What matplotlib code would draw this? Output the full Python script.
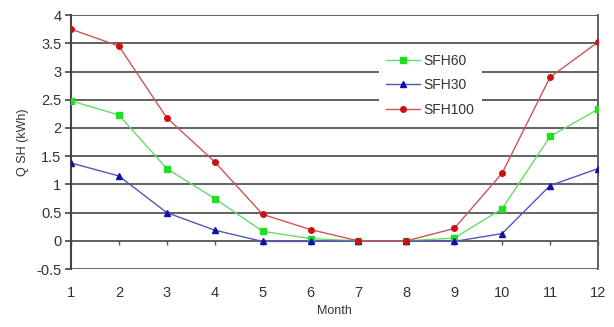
import matplotlib
matplotlib.use("Agg")
import matplotlib.pyplot as plt

plt.rcParams['font.family'] = ['Liberation Sans', 'DejaVu Sans']

months = [1, 2, 3, 4, 5, 6, 7, 8, 9, 10, 11, 12]
sfh60 = [2.48, 2.23, 1.28, 0.75, 0.17, 0.04, 0.0, 0.0, 0.05, 0.57, 1.85, 2.33]
sfh30 = [1.38, 1.15, 0.50, 0.19, -0.01, -0.01, 0.0, 0.0, -0.01, 0.13, 0.98, 1.28]
sfh100 = [3.75, 3.45, 2.18, 1.40, 0.47, 0.20, 0.0, 0.0, 0.22, 1.20, 2.90, 3.52]

fig = plt.figure(figsize=(6.14, 3.27), dpi=100)
ax = fig.add_axes([0.1156, 0.177, 0.8583, 0.777])

# horizontal grid
for yv in [-0.5, 0, 0.5, 1, 1.5, 2, 2.5, 3, 3.5, 4]:
    ax.axhline(yv, color='#555555', linewidth=1.3, zorder=1)

ax.plot(months, sfh60, color='#66dd66', linewidth=1.0, marker='s', markersize=4.5,
        markerfacecolor='#22dd22', markeredgecolor='#22dd22', label='SFH60', zorder=3)
ax.plot(months, sfh30, color='#5555bb', linewidth=1.0, marker='^', markersize=5,
        markerfacecolor='#1111aa', markeredgecolor='#1111aa', label='SFH30', zorder=3)
ax.plot(months, sfh100, color='#cc5555', linewidth=1.0, marker='o', markersize=4,
        markerfacecolor='#cc1111', markeredgecolor='#cc1111', label='SFH100', zorder=4)

ax.set_xlim(1, 12)
ax.set_ylim(-0.5, 4)
ax.set_xticks(months)
ax.set_yticks([-0.5, 0, 0.5, 1, 1.5, 2, 2.5, 3, 3.5, 4])
ax.set_yticklabels(['-0.5', '0', '0.5', '1', '1.5', '2', '2.5', '3', '3.5', '4'])

ax.spines['top'].set_visible(False)
ax.spines['left'].set_color('#444444')
ax.spines['left'].set_linewidth(1.5)
ax.spines['right'].set_color('#555555')
ax.spines['right'].set_linewidth(1.3)
ax.spines['bottom'].set_visible(False)

ax.tick_params(axis='x', length=0, pad=12, labelsize=10.5, labelcolor='#333333')
ax.tick_params(axis='y', length=4, width=1.2, color='#444444', labelsize=10.5,
               labelcolor='#333333', pad=3)

# tick marks on the zero line
sec = ax.secondary_xaxis(0.5 / 4.5)
sec.set_xticks(months)
sec.tick_params(length=3, width=1, color='#555555', labelbottom=False, direction='out')
sec.spines['bottom'].set_visible(False)

ax.set_xlabel('Month', fontsize=9, color='#333333', labelpad=4)
ax.set_ylabel('Q SH (kWh)', fontsize=9, color='#333333', labelpad=5)

leg = ax.legend(loc='upper left', bbox_to_anchor=(0.585, 0.875), frameon=True,
                fontsize=10, handlelength=2.4, handletextpad=0.3, labelspacing=0.75,
                borderpad=0.5, borderaxespad=0, fancybox=False)
leg.get_frame().set_edgecolor('none')
leg.get_frame().set_facecolor('white')
leg.get_frame().set_alpha(1)
for t in leg.get_texts():
    t.set_color('#333333')

fig.savefig('out.png', dpi=100)
